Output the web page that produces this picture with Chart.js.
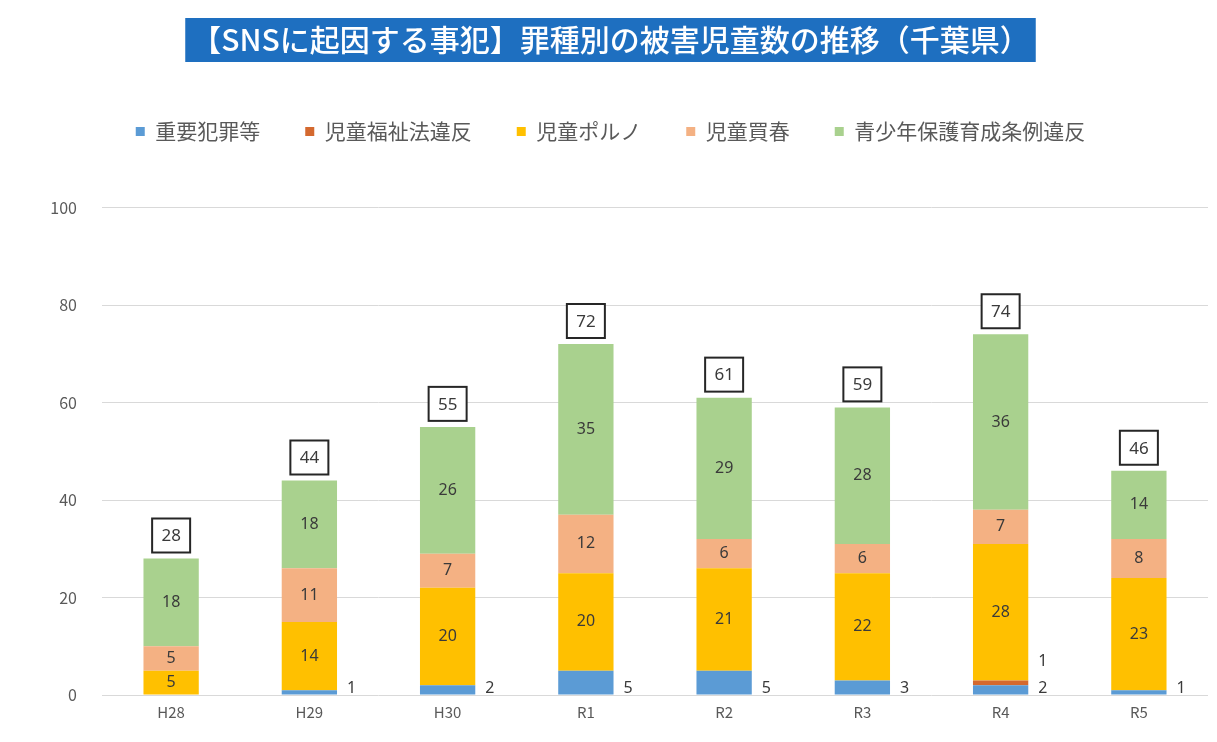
<!DOCTYPE html>
<html><head><meta charset="utf-8">
<script src="https://cdn.jsdelivr.net/npm/chart.js@4/dist/chart.umd.min.js"></script>
<style>html,body{margin:0;padding:0;background:#fff;overflow:hidden;} #wrap{width:1217px;height:742px;position:relative;}</style>
</head><body><div id="wrap"><canvas id="c" width="1217" height="742"></canvas></div>
<script>
const categories = ['H28','H29','H30','R1','R2','R3','R4','R5'];
const seriesNames = ['重要犯罪等','児童福祉法違反','児童ポルノ','児童買春','青少年保護育成条例違反'];
const juuyouHanzai = [0,1,2,5,5,3,2,1];
const jidouFukushi = [0,0,0,0,0,0,1,0];
const jidouPorno = [5,14,20,20,21,22,28,23];
const jidouBaishun = [5,11,7,12,6,6,7,8];
const seishounen = [18,18,26,35,29,28,36,14];
const yTickStep = 20;
const yMax = 100;
const titleText = '【SNSに起因する事犯】罪種別の被害児童数の推移（千葉県）';
const seriesColors = ['#5B9BD5','#D4692F','#FFC000','#F4B183','#A9D18E'];
const seriesData = [juuyouHanzai, jidouFukushi, jidouPorno, jidouBaishun, seishounen];

const JP = '"Noto Sans CJK JP", "Noto Sans", sans-serif';

const bgPlugin = {
  id: 'bg',
  beforeDraw(chart) {
    const ctx = chart.ctx;
    ctx.save();
    ctx.fillStyle = '#ffffff';
    ctx.fillRect(0, 0, chart.width, chart.height);
    const t = chart.titleBlock;
    if (t) {
      ctx.font = '500 30px ' + JP;
      const w = ctx.measureText(titleText).width;
      const cx = (t.left + t.right) / 2;
      ctx.fillStyle = '#1E6FC0';
      ctx.fillRect(cx - w / 2 - 6, t.top + 18, w + 12, 44);
    }
    ctx.restore();
  }
};

const legendSpacer = {
  id: 'legendSpacer',
  beforeInit(chart) {
    const orig = chart.legend.fit;
    chart.legend.fit = function () { orig.call(this); this.height += 55.5; };
  }
};

const labelPlugin = {
  id: 'labels',
  afterDatasetsDraw(chart) {
    const ctx = chart.ctx;
    const ys = chart.scales.y;
    const y0 = ys.getPixelForValue(0);
    ctx.save();
    ctx.fillStyle = '#3A3A3A';
    ctx.textBaseline = 'middle';
    ctx.font = '16px "Noto Sans", sans-serif';
    chart.data.datasets.forEach((ds, i) => {
      const meta = chart.getDatasetMeta(i);
      meta.data.forEach((bar, j) => {
        const v = ds.data[j];
        if (!v) return;
        if (i === 0) {
          ctx.textAlign = 'left';
          ctx.fillText(String(v), bar.x + bar.width / 2 + 10, y0 - 7);
        } else if (i === 1) {
          ctx.textAlign = 'left';
          ctx.fillText(String(v), bar.x + bar.width / 2 + 10, y0 - 34);
        } else {
          ctx.textAlign = 'center';
          ctx.fillText(String(v), bar.x, (bar.y + bar.base) / 2);
        }
      });
    });
    const meta0 = chart.getDatasetMeta(0);
    categories.forEach((c, j) => {
      let sum = 0;
      seriesData.forEach(arr => sum += arr[j]);
      const x = meta0.data[j].x;
      const top = ys.getPixelForValue(sum);
      const bw = 38, bh = 34;
      const by = top - 6 - bh;
      ctx.fillStyle = '#ffffff';
      ctx.fillRect(x - bw / 2, by, bw, bh);
      ctx.strokeStyle = '#262626';
      ctx.lineWidth = 2;
      ctx.strokeRect(x - bw / 2, by, bw, bh);
      ctx.fillStyle = '#3A3A3A';
      ctx.textAlign = 'center';
      ctx.font = '17px "Noto Sans", sans-serif';
      ctx.fillText(String(sum), x, by + bh / 2 + 1);
    });
    ctx.restore();
  }
};

new Chart(document.getElementById('c'), {
  type: 'bar',
  data: {
    labels: categories,
    datasets: seriesNames.map((name, i) => ({
      label: name,
      data: seriesData[i],
      backgroundColor: seriesColors[i],
      borderWidth: 0,
      barPercentage: 0.4,
      categoryPercentage: 1.0
    }))
  },
  options: {
    responsive: false,
    animation: false,
    devicePixelRatio: 1,
    layout: { padding: { left: 13, right: 9, top: 0, bottom: 0 } },
    plugins: {
      title: {
        display: true,
        text: titleText,
        color: '#ffffff',
        font: { family: JP, size: 30, weight: '500', lineHeight: 1.2 },
        padding: { top: 22, bottom: 18 }
      },
      legend: {
        display: true,
        position: 'top',
        labels: {
          color: '#595959',
          font: { family: JP, size: 21 },
          boxWidth: 9,
          boxHeight: 9,
          padding: 45
        }
      },
      tooltip: { enabled: false }
    },
    scales: {
      x: {
        stacked: true,
        grid: { display: false, drawTicks: false },
        border: { display: false },
        ticks: { color: '#595959', font: { family: JP, size: 15 }, padding: 8 },
        afterFit(scale) { scale.height = 47; }
      },
      y: {
        stacked: true,
        min: 0,
        max: yMax,
        ticks: { stepSize: yTickStep, color: '#595959', font: { family: JP, size: 16 }, padding: 25 },
        grid: { color: '#D9D9D9', lineWidth: 1, drawTicks: false },
        border: { display: false },
        afterFit(scale) { scale.width = 89; }
      }
    }
  },
  plugins: [bgPlugin, legendSpacer, labelPlugin]
});
</script>
</body></html>
